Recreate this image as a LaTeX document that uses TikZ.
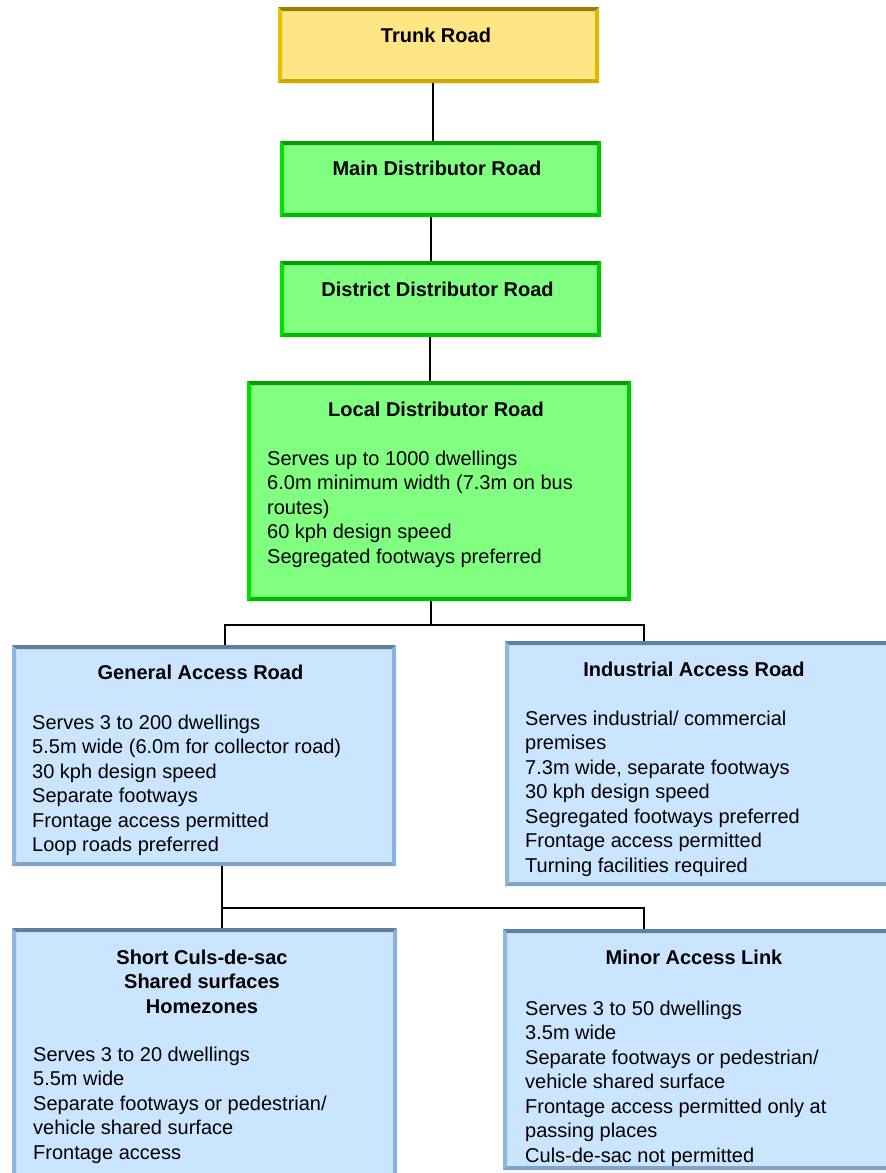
\documentclass[tikz,border=0pt]{standalone}
\usepackage{fontspec}
\setmainfont{Liberation Sans}
\definecolor{yfill}{HTML}{FFE584}
\definecolor{ytop}{HTML}{9C7C00}
\definecolor{yleft}{HTML}{E8C000}
\definecolor{yright}{HTML}{E0B800}
\definecolor{ybot}{HTML}{D0A800}
\definecolor{gfill}{HTML}{80FF80}
\definecolor{gtop}{HTML}{00A000}
\definecolor{gleft}{HTML}{00E000}
\definecolor{gright}{HTML}{00C800}
\definecolor{gbot}{HTML}{00BC00}
\definecolor{bfill}{HTML}{CCE5FF}
\definecolor{btop}{HTML}{5F7F9F}
\definecolor{bleft}{HTML}{8DB7E3}
\definecolor{bright}{HTML}{88B2DE}
\definecolor{bbot}{HTML}{7FA4CC}
\tikzset{
  bev/.style n args={5}{rectangle, draw=none, fill=#1, inner sep=0pt, outer sep=0pt,
    path picture={
      \fill[#2] (path picture bounding box.north west) -- (path picture bounding box.north east)
        -- ([xshift=-4pt,yshift=-4pt]path picture bounding box.north east)
        -- ([xshift=4pt,yshift=-4pt]path picture bounding box.north west) -- cycle;
      \fill[#3] (path picture bounding box.north west) -- ([xshift=4pt,yshift=-4pt]path picture bounding box.north west)
        -- ([xshift=4pt,yshift=4pt]path picture bounding box.south west)
        -- (path picture bounding box.south west) -- cycle;
      \fill[#4] (path picture bounding box.north east) -- ([xshift=-4pt,yshift=-4pt]path picture bounding box.north east)
        -- ([xshift=-4pt,yshift=4pt]path picture bounding box.south east)
        -- (path picture bounding box.south east) -- cycle;
      \fill[#5] (path picture bounding box.south west) -- ([xshift=4pt,yshift=4pt]path picture bounding box.south west)
        -- ([xshift=-4pt,yshift=4pt]path picture bounding box.south east)
        -- (path picture bounding box.south east) -- cycle;
    }},
  ybox/.style={bev={yfill}{ytop}{yleft}{yright}{ybot}},
  gbox/.style={bev={gfill}{gtop}{gleft}{gright}{gbot}},
  bbox/.style={bev={bfill}{btop}{bleft}{bright}{bbot}},
  ttl/.style={inner sep=0pt, anchor=base, font=\fontsize{20}{24.5}\selectfont\bfseries},
  body/.style={inner sep=0pt, anchor=base west, font=\fontsize{20}{24.5}\selectfont},
  conn/.style={draw=black, line width=1.5pt}
}
\begin{document}
\begin{tikzpicture}[x=1pt, y=-1pt]
\fill[white] (0,0) rectangle (886,1173);
\useasboundingbox (0,0) rectangle (886,1173);

% boxes
\node[ybox, minimum width=321pt, minimum height=76pt] (trunk) at (438.5,45) {};
\node[gbox, minimum width=321pt, minimum height=76pt] (main) at (440.5,179) {};
\node[gbox, minimum width=321pt, minimum height=76pt] (district) at (440.5,299) {};
\node[gbox, minimum width=384pt, minimum height=220pt] (local) at (439,491) {};
\node[bbox, minimum width=384pt, minimum height=221pt] (general) at (204,755.5) {};
\node[bbox, minimum width=385pt, minimum height=245pt] (industrial) at (697.5,763.5) {};
\node[bbox, minimum width=385pt, minimum height=250pt] (short) at (204.5,1053) {};
\node[bbox, minimum width=387pt, minimum height=241pt] (minor) at (696.5,1049.5) {};

% titles
\node[ttl] (trunkT) at (436,42) {Trunk Road};
\node[ttl] (mainT) at (437,175) {Main Distributor Road};
\node[ttl] (districtT) at (437.5,296) {District Distributor Road};
\node[ttl] (localT) at (436,416) {Local Distributor Road};
\node[ttl] (generalT) at (200.5,679) {General Access Road};
\node[ttl] (industrialT) at (694,676) {Industrial Access Road};
\node[ttl] (shortT) at (202,964) {\parbox[t]{300pt}{\centering Short Culs-de-sac\\Shared surfaces\\Homezones}};
\node[ttl] (minorT) at (694,964) {Minor Access Link};

% bodies
\node[body] (localB) at (267,465) {\parbox[t]{350pt}{\raggedright
Serves up to 1000 dwellings\\
6.0m minimum width (7.3m on bus\\
routes)\\
60 kph design speed\\
Segregated footways preferred}};
\node[body] (generalB) at (32,729) {\parbox[t]{350pt}{\raggedright
Serves 3 to 200 dwellings\\
5.5m wide (6.0m for collector road)\\
30 kph design speed\\
Separate footways\\
Frontage access permitted\\
Loop roads preferred}};
\node[body] (industrialB) at (525,725) {\parbox[t]{350pt}{\raggedright
Serves industrial/ commercial\\
premises\\
7.3m wide, separate footways\\
30 kph design speed\\
Segregated footways preferred\\
Frontage access permitted\\
Turning facilities required}};
\node[body] (shortB) at (33,1061) {\parbox[t]{350pt}{\raggedright
Serves 3 to 20 dwellings\\
5.5m wide\\
Separate footways or pedestrian/\\
vehicle shared surface\\
Frontage access}};
\node[body] (minorB) at (525,1015) {\parbox[t]{350pt}{\raggedright
Serves 3 to 50 dwellings\\
3.5m wide\\
Separate footways or pedestrian/\\
vehicle shared surface\\
Frontage access permitted only at\\
passing places\\
Culs-de-sac not permitted}};

% connector guides
\coordinate (c1) at (433,0);
\coordinate (c2) at (431,0);
\coordinate (c3) at (430,0);
\coordinate (j1) at (431,625);
\coordinate (xg) at (225,0);
\coordinate (xi) at (644,0);
\coordinate (j2) at (222,908);

\draw[conn] (trunk.south -| c1) -- (main.north -| c1);
\draw[conn] (main.south -| c2) -- (district.north -| c2);
\draw[conn] (district.south -| c3) -- (local.north -| c3);
\draw[conn] (local.south -| j1) -- (j1);
\draw[conn] (general.north -| xg) -- (xg |- j1) -- (xi |- j1) -- (industrial.north -| xi);
\draw[conn] (general.south -| j2) -- (short.north -| j2);
\draw[conn] (j2) -- (xi |- j2) -- (minor.north -| xi);
\end{tikzpicture}
\end{document}
